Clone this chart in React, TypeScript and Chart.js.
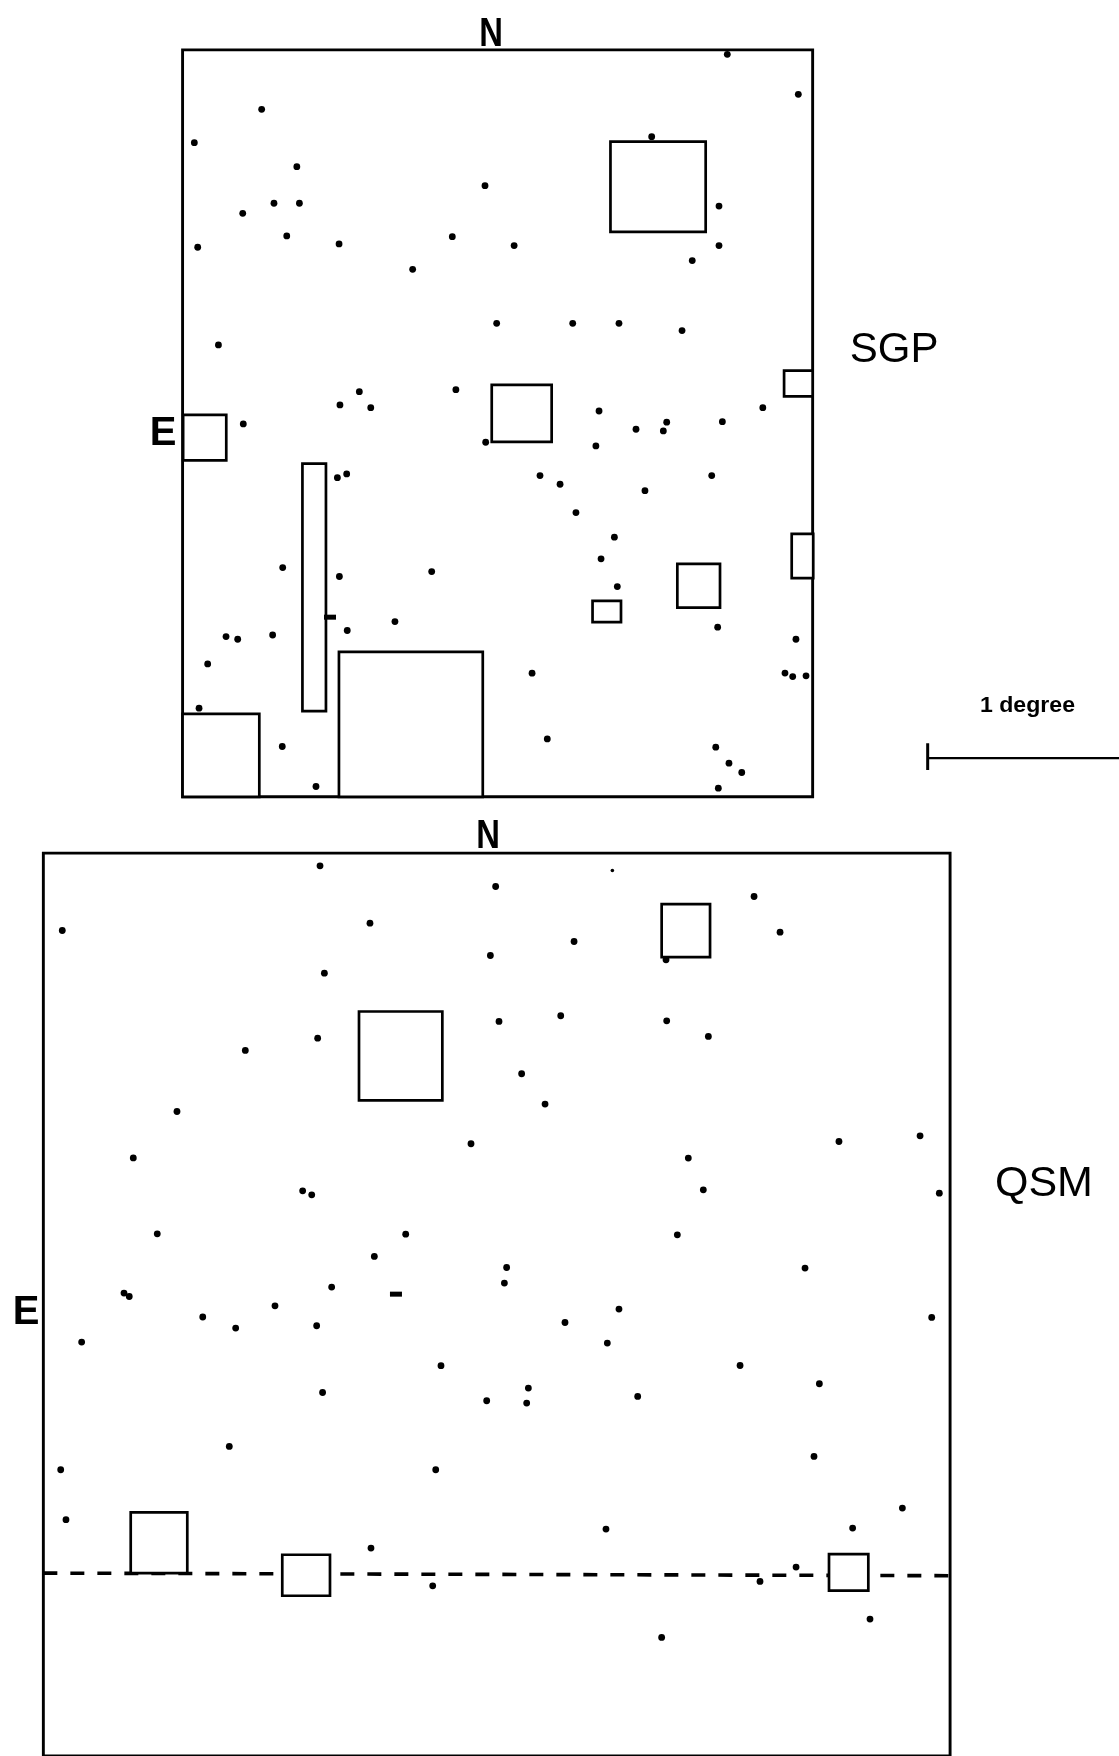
import React, { useEffect, useRef } from 'react';
import { Chart, registerables } from 'chart.js';

Chart.register(...registerables);

type P = [number, number];
type R = [number, number, number, number];

// Map coordinates (arbitrary sky units, origin top-left, y grows downward)
const sgpFrame: R = [163, 44.5, 725.5, 711.5];
const qsmFrame: R = [38.7, 761.8, 848.2, 1568];

const sgpFields: R[] = [
  [545, 126.5, 630, 207],
  [700, 331, 725.5, 354],
  [163.5, 370.5, 202, 411],
  [439, 343.7, 492.5, 394.6],
  [270, 414, 291, 635],
  [706.8, 476.8, 726, 516.3],
  [604.7, 503.5, 642.8, 542.5],
  [529, 536.6, 554.4, 555.6],
  [302.6, 582, 431, 711.5],
  [163, 637.5, 231.5, 711.5],
];

const qsmFields: R[] = [
  [590.7, 807.4, 633.9, 854.7],
  [320.5, 903.2, 394.9, 982.6],
  [116.7, 1350.5, 167.2, 1404.7],
  [252, 1388.3, 294.6, 1424.9],
  [740.1, 1387.7, 775.2, 1420.4],
];

const sgpStars: P[] = [
  [649.3, 48.5], [712.7, 84.2], [233.6, 97.6], [173.5, 127.4], [581.8, 122], [265, 148.8],
  [433, 165.8], [244.6, 181.5], [267.3, 181.5], [216.7, 190.5], [641.9, 184], [256, 210.7],
  [176.5, 220.8], [302.7, 217.8], [403.8, 211.3], [459, 219.3], [641.9, 219.3], [618, 232.7],
  [368.4, 240.5], [443.4, 288.7], [511.3, 288.7], [552.6, 288.7], [608.9, 295.2], [195, 308],
  [320.8, 349.7], [303.5, 361.6], [331, 364], [407, 348], [217.2, 378.5], [534.8, 367],
  [567.8, 383.3], [595.2, 377], [592.2, 384.8], [644.9, 376.5], [681, 364], [532, 398.2],
  [433.6, 394.9], [301.2, 426.5], [309.5, 423.2], [482.1, 424.7], [500, 432.4], [575.8, 438.1],
  [635.4, 424.7], [514.2, 457.7], [548.5, 479.7], [536.6, 499], [252.4, 506.8], [303, 514.8],
  [385.4, 510.4], [551.1, 523.8], [352.6, 555], [310, 563], [201.8, 568.4], [212.2, 570.8],
  [243.4, 567], [640.7, 560], [710.6, 570.8], [185.4, 592.8], [475, 601.1], [700.8, 601],
  [707.7, 604.1], [719.6, 603.5], [177.7, 632.4], [488.6, 659.8], [252, 666.6], [639, 667.2],
  [650.8, 681.5], [662.2, 689.8], [282.1, 702.3], [641.3, 703.8],
];

const qsmStars: P[] = [
  [285.7, 773.1], [442.5, 791.6], [673.2, 800.5], [55.6, 830.9], [330.3, 824.3], [696.4, 832.4],
  [289.6, 869], [437.8, 853.2], [512.5, 840.7], [594.6, 857], [445.5, 912.1], [500.6, 907],
  [595.2, 911.5], [632.4, 925.5], [219, 938], [283.6, 927], [465.7, 958.8], [486.6, 985.9],
  [158, 992.5], [420.5, 1021.3], [119, 1034], [614.5, 1034.1], [749, 1019.3], [821.4, 1014.2],
  [627.9, 1062.4], [838.6, 1065.4], [270.2, 1063.3], [278.3, 1066.9], [140.4, 1101.7], [362.2, 1102],
  [604.7, 1102.6], [334.2, 1121.9], [452.3, 1131.8], [450.3, 1145.7], [718.7, 1132.3], [296.1, 1149.3],
  [110.7, 1154.6], [115.4, 1157.7], [245.5, 1166], [181, 1176], [210.4, 1185.9], [282.7, 1183.8],
  [552.6, 1168.9], [504.4, 1180.9], [542.2, 1199.3], [831.8, 1176.4], [72.9, 1198.4], [393.7, 1219.5],
  [660.7, 1219.3], [288, 1243.4], [471.7, 1239.5], [470.2, 1252.9], [434.5, 1250.8], [569.3, 1246.9],
  [731.5, 1235.6], [204.7, 1291.6], [54.2, 1312.4], [389, 1312.4], [726.7, 1300.5], [58.9, 1357],
  [541, 1365.4], [761.2, 1364.5], [805.6, 1346.6], [331.2, 1382.3], [710.7, 1399.3], [386.3, 1416],
  [678.5, 1412.1], [776.7, 1445.7], [590.7, 1462.1],
];

const faintStars: P[] = [[546.7, 777.3]];
const elongatedMarks: P[] = [[294.6, 551.1], [353.5, 1155.6]];
const qsmCutLine: P[] = [[38.7, 1404.7], [848.2, 1407]];
const scaleBar: P[] = [[828.2, 677], [999, 677]];
const scaleTick: P[] = [[828.2, 663.6], [828.2, 687.5]];

const labelTexts = ['N', 'E', 'SGP', '1 degree', 'N', 'E', 'QSM'];
const labelX = [438.4, 145.5, 798.2, 917.3, 435.7, 23.2, 932];
const labelY = [41, 397.3, 323.5, 635.4, 757.1, 1182, 1067.8];
const labelSize = [40, 40, 42, 22, 40, 40, 43];
const labelWeight = ['bold', 'bold', 'normal', 'bold', 'bold', 'bold', 'normal'];
const labelStretch = [0.82, 1, 1, 1.05, 0.82, 1, 1];

const toPts = (a: P[]) => a.map(([x, y]) => ({ x, y }));
const rectPath = (r: R) => [
  { x: r[0], y: r[1] },
  { x: r[2], y: r[1] },
  { x: r[2], y: r[3] },
  { x: r[0], y: r[3] },
  { x: r[0], y: r[1] },
];

const textPlugin = {
  id: 'mapText',
  afterDraw(chart: any) {
    const { ctx } = chart;
    const xs = chart.scales.x;
    const ys = chart.scales.y;
    ctx.save();
    ctx.fillStyle = '#000';
    ctx.textAlign = 'center';
    ctx.textBaseline = 'alphabetic';
    labelTexts.forEach((t, i) => {
      const px = xs.getPixelForValue(labelX[i]);
      const py = ys.getPixelForValue(labelY[i]);
      ctx.font = `${labelWeight[i]} ${labelSize[i]}px "Liberation Sans", Arial, Helvetica, sans-serif`;
      ctx.save();
      ctx.translate(px, py);
      ctx.scale(labelStretch[i], 1);
      ctx.fillText(t, 0, 0);
      ctx.restore();
    });
    ctx.restore();
  },
};

export default function App() {
  const ref = useRef<HTMLCanvasElement | null>(null);

  useEffect(() => {
    if (!ref.current) return;
    const lineBase = {
      type: 'line' as const,
      borderColor: '#000',
      pointRadius: 0,
      tension: 0,
      borderCapStyle: 'square' as const,
      borderJoinStyle: 'miter' as const,
    };
    const datasets: any[] = [];
    [sgpFrame, qsmFrame].forEach((f) =>
      datasets.push({ ...lineBase, data: rectPath(f), borderWidth: 2.9, fill: false, order: 4 })
    );
    datasets.push({
      ...lineBase,
      data: toPts(qsmCutLine),
      borderWidth: 3.6,
      borderDash: [14, 13],
      borderCapStyle: 'butt',
      fill: false,
      order: 3,
    });
    [...sgpFields, ...qsmFields].forEach((f) =>
      datasets.push({
        ...lineBase,
        data: rectPath(f),
        borderWidth: 2.7,
        fill: 'shape',
        backgroundColor: '#fff',
        order: 2,
      })
    );
    datasets.push({ ...lineBase, data: toPts(scaleBar), borderWidth: 2.4, borderCapStyle: 'butt', fill: false, order: 2 });
    datasets.push({ ...lineBase, data: toPts(scaleTick), borderWidth: 3, borderCapStyle: 'butt', fill: false, order: 2 });
    datasets.push({
      type: 'scatter',
      data: toPts([...sgpStars, ...qsmStars]),
      pointRadius: 3.4,
      pointStyle: 'circle',
      pointBackgroundColor: '#000',
      pointBorderWidth: 0,
      order: 0,
    });
    datasets.push({
      type: 'scatter',
      data: toPts(faintStars),
      pointRadius: 1.8,
      pointBackgroundColor: '#000',
      pointBorderWidth: 0,
      order: 0,
    });
    datasets.push({
      type: 'scatter',
      data: toPts(elongatedMarks),
      pointStyle: 'line',
      pointRadius: 6,
      pointBorderColor: '#000',
      pointBorderWidth: 5,
      order: 0,
    });

    const chart = new Chart(ref.current, {
      type: 'scatter',
      data: { datasets },
      options: {
        animation: false,
        responsive: false,
        maintainAspectRatio: false,
        devicePixelRatio: 1,
        events: [],
        layout: { padding: 0, autoPadding: false },
        plugins: { legend: { display: false }, tooltip: { enabled: false } },
        scales: {
          x: { type: 'linear', min: 0, max: 999, display: false },
          y: { type: 'linear', min: 0, max: 1568, reverse: true, display: false },
        },
      },
      plugins: [textPlugin],
    } as any);
    return () => chart.destroy();
  }, []);

  return (
    <div style={{ position: 'absolute', left: 0, top: 0, width: 1119, height: 1756, background: '#fff' }}>
      <canvas ref={ref} width={1119} height={1756} style={{ display: 'block', width: 1119, height: 1756 }} />
    </div>
  );
}
